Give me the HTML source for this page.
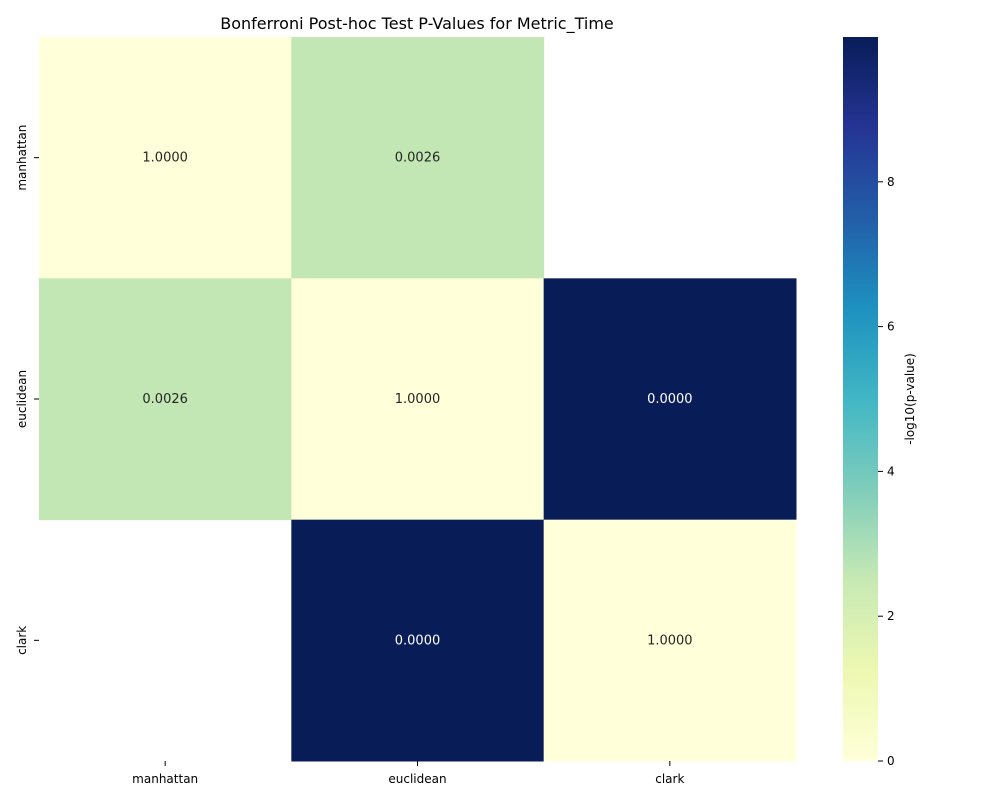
<!DOCTYPE html>
<html><head><meta charset="utf-8"><style>
body{margin:0;background:#fff;font-family:"Liberation Sans","DejaVu Sans",sans-serif;}
svg text{font-family:"DejaVu Sans","Liberation Sans",sans-serif;}
</style></head><body>
<svg id="chart" width="1000" height="800">
<defs><linearGradient id="cb" x1="0" y1="1" x2="0" y2="0">
<stop offset="0" stop-color="#ffffd9"/><stop offset="0.125" stop-color="#edf8b1"/><stop offset="0.25" stop-color="#c7e9b4"/><stop offset="0.375" stop-color="#7fcdbb"/><stop offset="0.5" stop-color="#41b6c4"/><stop offset="0.625" stop-color="#1d91c0"/><stop offset="0.75" stop-color="#225ea8"/><stop offset="0.875" stop-color="#253494"/><stop offset="1" stop-color="#081d58"/>
</linearGradient></defs>
<text x="417" y="29" font-size="16" text-anchor="middle">Bonferroni Post-hoc Test P-Values for Metric_Time</text>
<g id="cells"></g>
<rect x="843" y="37" width="35" height="724" fill="url(#cb)"/>
<g id="cbticks"></g>
<text transform="translate(914,399) rotate(-90)" font-size="12" text-anchor="middle">-log10(p-value)</text>
</svg>
<script>
const categories=["manhattan","euclidean","clark"];
const pvalues=[[1.0,0.0026,null],[0.0026,1.0,0.0],[null,0.0,1.0]];
const labels=[["1.0000","0.0026",""],["0.0026","1.0000","0.0000"],["","0.0000","1.0000"]];
const cbTicks=[0,2,4,6,8];
const vmax=10;
const X0=39,X1=796,Y0=37,Y1=761;
const cw=(X1-X0)/categories.length,ch=(Y1-Y0)/categories.length;
const stops=["#ffffd9","#edf8b1","#c7e9b4","#7fcdbb","#41b6c4","#1d91c0","#225ea8","#253494","#081d58"];
function hex(h){return [1,3,5].map(i=>parseInt(h.substr(i,2),16));}
function color(v){let t=Math.max(0,Math.min(1,v/vmax))*(stops.length-1);let i=Math.min(Math.floor(t),stops.length-2),f=t-i;
const a=hex(stops[i]),b=hex(stops[i+1]);return "rgb("+a.map((x,k)=>Math.round(x+(b[k]-x)*f)).join(",")+")";}
const NS="http://www.w3.org/2000/svg";
const svg=document.getElementById("chart"),g=document.getElementById("cells"),cb=document.getElementById("cbticks");
function mk(t,a,p){const e=document.createElementNS(NS,t);for(const k in a)e.setAttribute(k,a[k]);(p||svg).appendChild(e);return e;}
pvalues.forEach((row,r)=>row.forEach((p,c)=>{
 if(p===null)return;
 const v=p<=0?vmax:Math.min(vmax,-Math.log10(p));
 const rect=mk("rect",{x:X0+c*cw,y:Y0+r*ch,width:cw+0.5,height:ch+0.5,fill:color(v)},g);
 
 
 const t=mk("text",{x:X0+(c+0.5)*cw,y:Y0+(r+0.5)*ch+4,"font-size":13,"text-anchor":"middle",fill:v>5?"#fff":"#262626"},g);
 t.textContent=labels[r][c];
 
 
}));
categories.forEach((c,i)=>{
 const x=X0+(i+0.5)*cw;
 mk("line",{x1:x,x2:x,y1:Y1,y2:Y1+5,stroke:"#000"});
 const t=mk("text",{x:x,y:Y1+22,"font-size":12,"text-anchor":"middle"});t.textContent=c;
 
 
 const y=Y0+(i+0.5)*ch;
 mk("line",{x1:X0-5,x2:X0,y1:y,y2:y,stroke:"#000"});
 const u=mk("text",{transform:"translate("+(X0-13)+","+y+") rotate(-90)","font-size":12,"text-anchor":"middle"});u.textContent=c;
 
 
});
cbTicks.forEach(v=>{
 const y=Y1-(Y1-Y0)*v/vmax;
 mk("line",{x1:878,x2:883,y1:y,y2:y,stroke:"#000"},cb);
 const t=mk("text",{x:887,y:y+4,"font-size":12},cb);t.textContent=v;
 
 
});
</script>
</body></html>
